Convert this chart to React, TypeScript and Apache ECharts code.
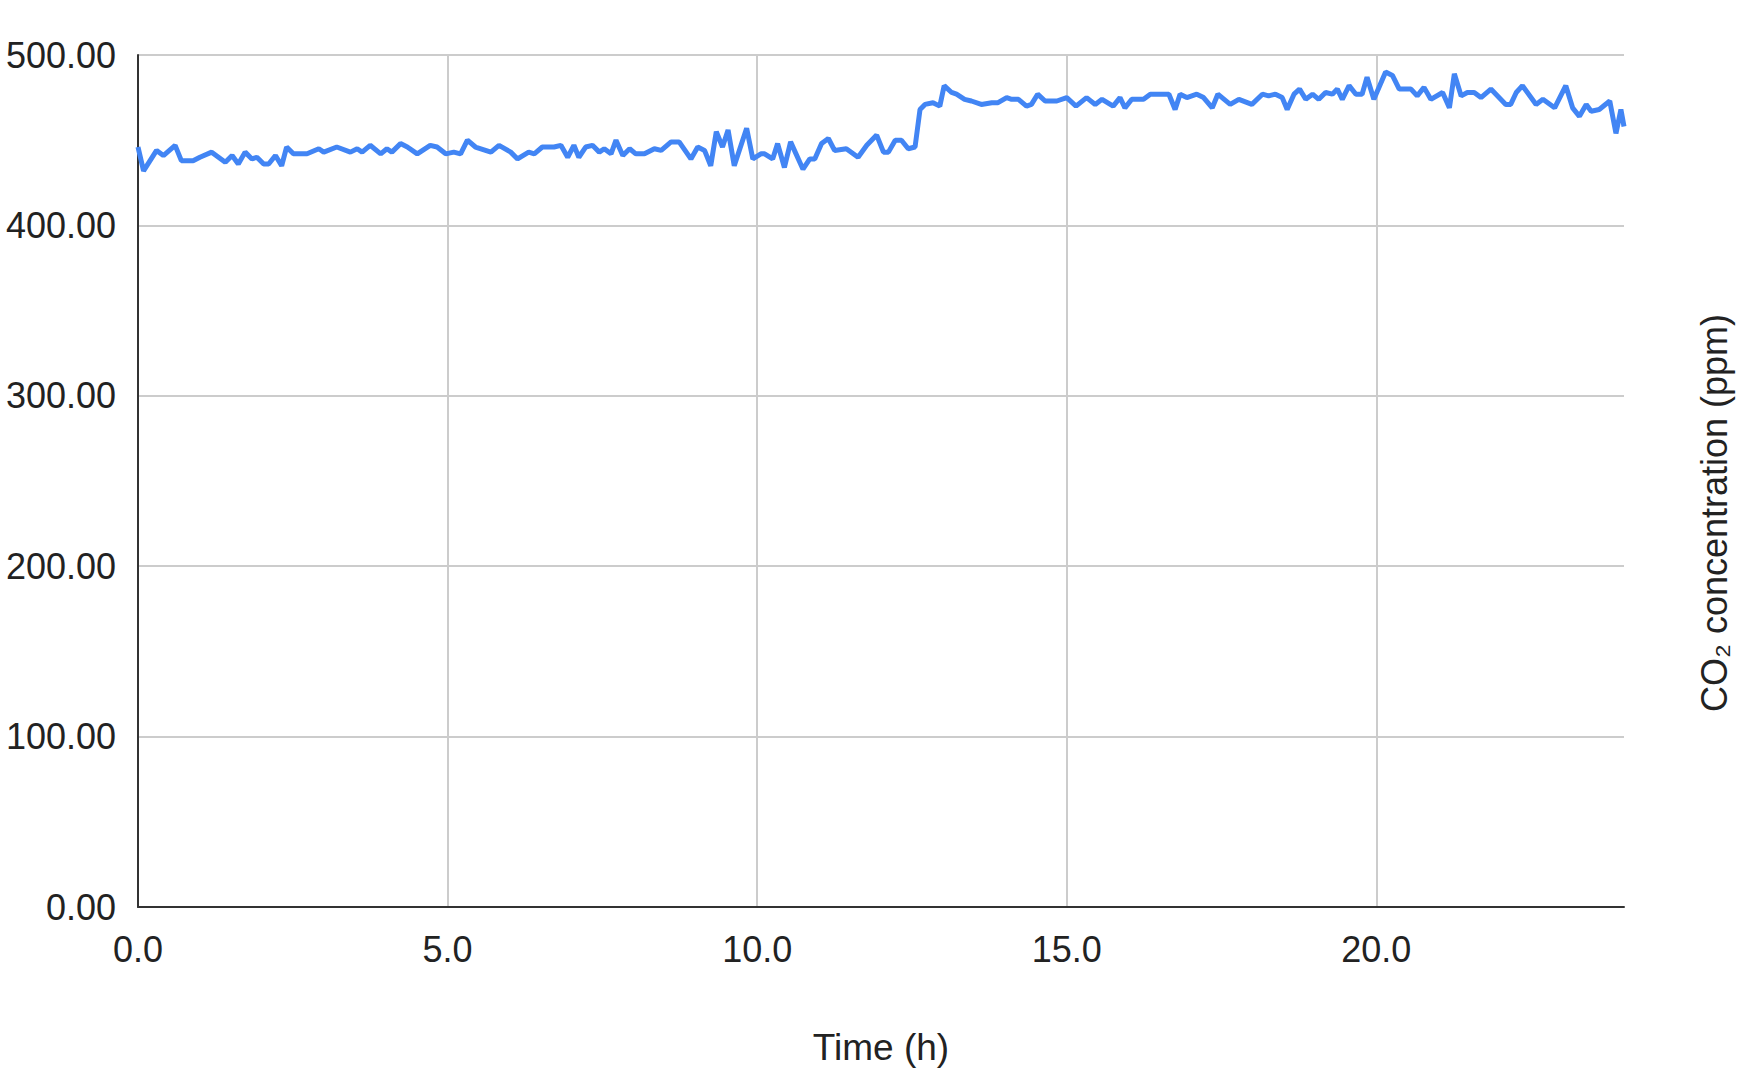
import React, { useEffect, useRef } from "react";
import * as echarts from "echarts";

const times: number[] = [
  0.0, 0.09, 0.3, 0.41, 0.6, 0.7, 0.89, 1.0, 1.19, 1.41, 1.52, 1.62, 1.73, 1.84, 1.92, 2.03, 2.11, 2.22, 2.32, 2.4,
  2.51, 2.73, 2.92, 3.0, 3.21, 3.43, 3.54, 3.62, 3.75, 3.92, 4.02, 4.1, 4.24, 4.35, 4.51, 4.72, 4.83, 4.97, 5.1, 5.21,
  5.32, 5.45, 5.7, 5.83, 6.02, 6.13, 6.31, 6.4, 6.53, 6.72, 6.83, 6.94, 7.04, 7.12, 7.23, 7.34, 7.45, 7.53, 7.64, 7.72,
  7.83, 7.94, 8.04, 8.18, 8.34, 8.45, 8.61, 8.74, 8.93, 9.04, 9.15, 9.25, 9.34, 9.44, 9.53, 9.63, 9.83, 9.93, 10.06, 10.12,
  10.25, 10.33, 10.44, 10.54, 10.74, 10.85, 10.93, 11.04, 11.15, 11.25, 11.44, 11.63, 11.77, 11.93, 12.04, 12.12, 12.23, 12.33, 12.44, 12.55,
  12.63, 12.71, 12.84, 12.95, 13.02, 13.14, 13.22, 13.35, 13.46, 13.62, 13.79, 13.89, 14.03, 14.11, 14.22, 14.35, 14.43, 14.53, 14.65, 14.84,
  15.0, 15.15, 15.32, 15.46, 15.57, 15.75, 15.86, 15.94, 16.05, 16.24, 16.35, 16.54, 16.65, 16.75, 16.83, 16.94, 17.1, 17.21, 17.35, 17.44,
  17.64, 17.78, 17.99, 18.16, 18.26, 18.37, 18.48, 18.56, 18.67, 18.76, 18.86, 18.97, 19.07, 19.18, 19.29, 19.37, 19.45, 19.56, 19.67, 19.77,
  19.85, 19.96, 20.15, 20.26, 20.37, 20.56, 20.66, 20.77, 20.88, 21.07, 21.18, 21.26, 21.37, 21.47, 21.58, 21.69, 21.85, 22.09, 22.17, 22.26,
  22.36, 22.58, 22.69, 22.88, 23.06, 23.17, 23.28, 23.39, 23.47, 23.6, 23.77, 23.87, 23.95, 24.0,
];

const co2: number[] = [
  446, 432, 444, 441, 447, 438, 438, 440, 443, 437, 441, 436, 443, 439, 440, 436, 436, 441, 435, 446,
  442, 442, 445, 443, 446, 443, 445, 443, 447, 442, 445, 443, 448, 446, 442, 447, 446, 442, 443, 442,
  450, 446, 443, 447, 443, 439, 443, 442, 446, 446, 447, 440, 447, 440, 446, 447, 443, 445, 442, 450,
  441, 445, 442, 442, 445, 444, 449, 449, 439, 446, 444, 435, 455, 446, 456, 435, 457, 439, 442, 442,
  439, 448, 434, 449, 433, 439, 439, 448, 451, 444, 445, 440, 447, 453, 443, 443, 450, 450, 445, 446,
  468, 471, 472, 470, 482, 478, 477, 474, 473, 471, 472, 472, 475, 474, 474, 470, 471, 477, 473, 473,
  475, 470, 475, 471, 474, 470, 475, 469, 474, 474, 477, 477, 477, 468, 477, 475, 477, 475, 469, 477,
  471, 474, 471, 477, 476, 477, 475, 468, 477, 480, 474, 477, 474, 478, 477, 480, 474, 482, 477, 477,
  487, 474, 490, 488, 480, 480, 476, 481, 474, 478, 469, 489, 476, 478, 478, 475, 480, 471, 471, 478,
  482, 471, 474, 469, 482, 469, 464, 471, 467, 468, 473, 454, 468, 458,
];

const yTicks = { min: 0, max: 500, interval: 100 };
const xTicks = { min: 0, max: 24, interval: 5 };

const xName = "Time (h)";
const yName = "CO₂ concentration (ppm)";

const FONT = "'Liberation Sans', Arial, sans-serif";

export default function App() {
  const ref = useRef<HTMLDivElement>(null);

  useEffect(() => {
    document.body.style.margin = "0";
    if (!ref.current) return;
    const chart = echarts.init(ref.current, undefined, { renderer: "svg" });
    const data = times.map((t, i) => [t, co2[i]]);
    chart.setOption({
      animation: false,
      backgroundColor: "#ffffff",
      grid: { left: 138, top: 55, right: 126, bottom: 173, containLabel: false },
      xAxis: {
        type: "value",
        min: xTicks.min,
        max: xTicks.max,
        interval: xTicks.interval,
        name: xName,
        nameLocation: "middle",
        nameGap: 122,
        nameTextStyle: { fontFamily: FONT, fontSize: 37, color: "#222" },
        axisLine: { show: true, lineStyle: { color: "#333", width: 2 } },
        axisTick: { show: false },
        axisLabel: {
          fontFamily: FONT,
          fontSize: 36,
          color: "#222",
          margin: 24,
          showMaxLabel: false,
          formatter: (v: number) => v.toFixed(1),
        },
        splitLine: { show: true, showMaxLine: false, showMinLine: false, lineStyle: { color: "#cccccc", width: 2 } },
      },
      yAxis: {
        type: "value",
        min: yTicks.min,
        max: yTicks.max,
        interval: yTicks.interval,
        axisLine: { show: true, lineStyle: { color: "#333", width: 2 } },
        axisTick: { show: false },
        axisLabel: {
          fontFamily: FONT,
          fontSize: 36,
          color: "#222",
          margin: 22,
          formatter: (v: number) => v.toFixed(2),
        },
        splitLine: { show: true, lineStyle: { color: "#cccccc", width: 2 } },
      },
      graphic: [
        {
          type: "text",
          x: 1714,
          y: 513,
          rotation: Math.PI / 2,
          style: {
            text: yName,
            fontFamily: FONT,
            fontSize: 36,
            fill: "#222",
            textAlign: "center",
            textVerticalAlign: "middle",
          },
        },
      ],
      series: [
        {
          type: "line",
          data,
          showSymbol: false,
          symbol: "none",
          lineStyle: { color: "#4285F4", width: 5 },
          itemStyle: { color: "#4285F4" },
        },
      ],
    });
    return () => chart.dispose();
  }, []);

  return <div ref={ref} style={{ width: 1750, height: 1080 }} />;
}
